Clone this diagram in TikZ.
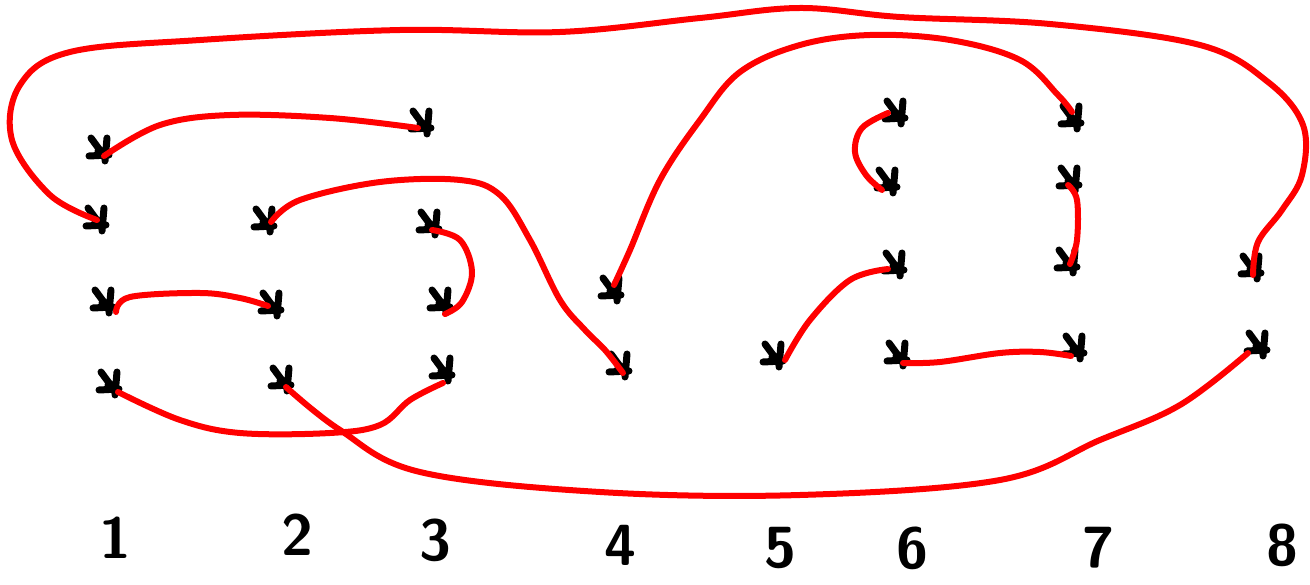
\documentclass[tikz,border=0pt]{standalone}
\usepackage{fontspec}
\begin{document}
\begin{tikzpicture}[x=1pt,y=-1pt,
  mk/.style={minimum size=40pt, inner sep=0pt, draw=none,
    path picture={
      \draw[line width=7pt, line cap=round, line join=round, black]
        ([shift={(-9pt,12pt)}]path picture bounding box.center) -- ([shift={(2pt,-3pt)}]path picture bounding box.center)
        ([shift={(7pt,12pt)}]path picture bounding box.center) -- ([shift={(5pt,-11pt)}]path picture bounding box.center)
        ([shift={(-11pt,-6pt)}]path picture bounding box.center) -- ([shift={(9pt,-5pt)}]path picture bounding box.center)
        ([shift={(-2pt,-1pt)}]path picture bounding box.center) -- ([shift={(5pt,-8pt)}]path picture bounding box.center);
    }},
  rl/.style={draw=red, line width=6pt, line cap=round, line join=round},
  dg/.style={font=\sffamily\bfseries\fontsize{58}{64}\selectfont, inner sep=0pt}]
\useasboundingbox (0,0) rectangle (1310,585);
% marks
\node[mk] (A) at (100,150) {};
\node[mk] (B) at (422,123) {};
\node[mk] (C) at (97,220) {};
\node[mk] (D) at (265,221) {};
\node[mk] (E) at (430,224) {};
\node[mk] (F) at (104,302) {};
\node[mk] (G) at (272,305) {};
\node[mk] (H) at (441,302) {};
\node[mk] (I) at (110,384) {};
\node[mk] (J) at (282,380) {};
\node[mk] (K) at (443,370) {};
\node[mk] (L) at (612,290) {};
\node[mk] (M) at (620,366) {};
\node[mk] (N) at (774,356) {};
\node[mk] (O) at (896,113) {};
\node[mk] (P) at (888,182) {};
\node[mk] (Q) at (895,265) {};
\node[mk] (R) at (898,355) {};
\node[mk] (S) at (1072,118) {};
\node[mk] (T) at (1070,180) {};
\node[mk] (U) at (1068,262) {};
\node[mk] (V) at (1075,348) {};
\node[mk] (W) at (1252,268) {};
\node[mk] (X) at (1258,345) {};
% red connectors
\draw[rl] plot[smooth, tension=0.6] coordinates {([shift={(-4,5)}]B.center) (330,118) (230,115) (160,125) ([shift={(4,6)}]A.center)};
\draw[rl] plot[smooth, tension=0.6] coordinates {(C.center) (50,195) (12,140) (20,85) (70,52) (200,40) (400,30) (560,32) (700,18) (800,8) (900,17) (1050,24) (1200,45) (1268,82) (1303,125) (1302,175) (1282,210) (1258,242) (1253,275)};
\draw[rl] plot[smooth, tension=0.6] coordinates {([shift={(6,1)}]D.center) (300,200) (380,182) (460,180) (500,195) (530,240) (560,300) (585,330) (605,350) ([shift={(3,7)}]M.center)};
\draw[rl] plot[smooth, tension=0.6] coordinates {([shift={(2,6)}]E.center) (460,240) (472,272) (462,302) ([shift={(4,12)}]H.center)};
\draw[rl] plot[smooth, tension=0.6] coordinates {([shift={(12,10)}]F.center) (130,297) (200,293) (240,298) (268,306)};
\draw[rl] plot[smooth, tension=0.6] coordinates {([shift={(8,8)}]I.center) (180,420) (240,433) (330,433) (380,425) (410,400) ([shift={(0,13)}]K.center)};
\draw[rl] plot[smooth, tension=0.6] coordinates {([shift={(4,7)}]J.center) (340,430) (420,472) (600,492) (800,495) (1000,480) (1100,440) (1180,405) ([shift={(-10,8)}]X.center)};
\draw[rl] plot[smooth, tension=0.6] coordinates {([shift={(2,-5)}]L.center) (630,250) (660,180) (700,120) (740,72) (800,45) (870,35) (950,40) (1020,60) (1058,95) ([shift={(0,-6)}]S.center)};
\draw[rl] plot[smooth, tension=0.6] coordinates {([shift={(-8,0)}]O.center) (862,128) (855,152) (866,175) ([shift={(-6,8)}]P.center)};
\draw[rl] plot[smooth, tension=0.6] coordinates {([shift={(11,4)}]N.center) (810,320) (850,280) ([shift={(-7,4)}]Q.center)};
\draw[rl] plot[smooth, tension=0.6] coordinates {([shift={(-2,5)}]T.center) (1077,200) (1077,240) ([shift={(2,2)}]U.center)};
\draw[rl] plot[smooth, tension=0.6] coordinates {([shift={(5,8)}]R.center) (940,362) (1000,353) (1040,352) ([shift={(-4,8)}]V.center)};
% digits
\node[dg] (d1) at (115,538) {1};
\node[dg] (d2) at (297,535) {2};
\node[dg] (d3) at (435,540) {3};
\node[dg] (d4) at (620,545) {4};
\node[dg] (d5) at (780,548) {5};
\node[dg] (d6) at (912,548) {6};
\node[dg] (d7) at (1098,548) {7};
\node[dg] (d8) at (1282,545) {8};
\end{tikzpicture}
\end{document}
